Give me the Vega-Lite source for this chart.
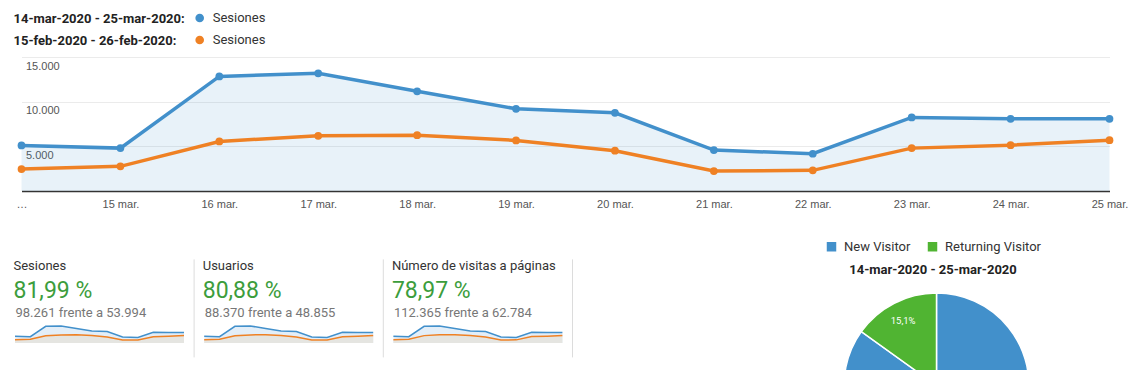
{
  "$schema": "https://vega.github.io/schema/vega-lite/v6.json",
  "background": "white",
  "padding": {"left": 12, "top": 7, "right": 0, "bottom": 0},
  "autosize": {"type": "pad"},
  "config": {"view": {"stroke": null}, "font": "Roboto"},
  "resolve": {"scale": {"color": "independent"}, "legend": {"color": "independent"}},
  "datasets": {
    "cabecera": [
      {"periodo": "14-mar-2020 - 25-mar-2020:", "serie": "actual", "metrica": "Sesiones"},
      {"periodo": "15-feb-2020 - 26-feb-2020:", "serie": "anterior", "metrica": "Sesiones"}
    ],
    "diario": [
      {"metrica": "Sesiones", "dia": "14 mar.", "actual": 5100, "anterior": 2455},
      {"metrica": "Sesiones", "dia": "15 mar.", "actual": 4800, "anterior": 2757},
      {"metrica": "Sesiones", "dia": "16 mar.", "actual": 12830, "anterior": 5547},
      {"metrica": "Sesiones", "dia": "17 mar.", "actual": 13170, "anterior": 6180},
      {"metrica": "Sesiones", "dia": "18 mar.", "actual": 11160, "anterior": 6250},
      {"metrica": "Sesiones", "dia": "19 mar.", "actual": 9200, "anterior": 5660},
      {"metrica": "Sesiones", "dia": "20 mar.", "actual": 8750, "anterior": 4510},
      {"metrica": "Sesiones", "dia": "21 mar.", "actual": 4580, "anterior": 2232},
      {"metrica": "Sesiones", "dia": "22 mar.", "actual": 4170, "anterior": 2310},
      {"metrica": "Sesiones", "dia": "23 mar.", "actual": 8230, "anterior": 4800},
      {"metrica": "Sesiones", "dia": "24 mar.", "actual": 8080, "anterior": 5134},
      {"metrica": "Sesiones", "dia": "25 mar.", "actual": 8080, "anterior": 5690},
      {"metrica": "Usuarios", "dia": "14 mar.", "actual": 4590, "anterior": 2220},
      {"metrica": "Usuarios", "dia": "15 mar.", "actual": 4320, "anterior": 2495},
      {"metrica": "Usuarios", "dia": "16 mar.", "actual": 11550, "anterior": 5020},
      {"metrica": "Usuarios", "dia": "17 mar.", "actual": 11850, "anterior": 5590},
      {"metrica": "Usuarios", "dia": "18 mar.", "actual": 10040, "anterior": 5660},
      {"metrica": "Usuarios", "dia": "19 mar.", "actual": 8280, "anterior": 5120},
      {"metrica": "Usuarios", "dia": "20 mar.", "actual": 7880, "anterior": 4080},
      {"metrica": "Usuarios", "dia": "21 mar.", "actual": 4120, "anterior": 2020},
      {"metrica": "Usuarios", "dia": "22 mar.", "actual": 3750, "anterior": 2090},
      {"metrica": "Usuarios", "dia": "23 mar.", "actual": 7410, "anterior": 4340},
      {"metrica": "Usuarios", "dia": "24 mar.", "actual": 7270, "anterior": 4650},
      {"metrica": "Usuarios", "dia": "25 mar.", "actual": 7270, "anterior": 5150},
      {"metrica": "Páginas", "dia": "14 mar.", "actual": 5830, "anterior": 2855},
      {"metrica": "Páginas", "dia": "15 mar.", "actual": 5490, "anterior": 3205},
      {"metrica": "Páginas", "dia": "16 mar.", "actual": 14680, "anterior": 6450},
      {"metrica": "Páginas", "dia": "17 mar.", "actual": 15070, "anterior": 7190},
      {"metrica": "Páginas", "dia": "18 mar.", "actual": 12770, "anterior": 7270},
      {"metrica": "Páginas", "dia": "19 mar.", "actual": 10520, "anterior": 6580},
      {"metrica": "Páginas", "dia": "20 mar.", "actual": 10010, "anterior": 5245},
      {"metrica": "Páginas", "dia": "21 mar.", "actual": 5240, "anterior": 2595},
      {"metrica": "Páginas", "dia": "22 mar.", "actual": 4770, "anterior": 2685},
      {"metrica": "Páginas", "dia": "23 mar.", "actual": 9420, "anterior": 5580},
      {"metrica": "Páginas", "dia": "24 mar.", "actual": 9240, "anterior": 5970},
      {"metrica": "Páginas", "dia": "25 mar.", "actual": 9240, "anterior": 6615}
    ],
    "visitantes": [
      {"tipo": "New Visitor", "porcentaje": 84.9, "etiqueta": "84,9%"},
      {"tipo": "Returning Visitor", "porcentaje": 15.1, "etiqueta": "15,1%"}
    ]
  },
  "spacing": 30,
  "vconcat": [
    {
      "spacing": 6,
      "resolve": {"scale": {"color": "independent"}, "legend": {"color": "independent"}},
      "vconcat": [
        {
          "data": {"name": "cabecera"},
          "width": 369.4,
          "height": 44,
          "encoding": {
            "y": {
              "field": "periodo", "type": "nominal", "sort": null,
              "scale": {"type": "point", "padding": 0.5},
              "axis": {"title": null, "domain": false, "ticks": false, "labelAlign": "left", "labelPadding": 2, "labelFont": "Roboto", "labelFontWeight": "bold", "labelFontSize": 13, "labelColor": "#222", "labelLimit": 0, "labelBaseline": "middle"}
            }
          },
          "layer": [
            {
              "mark": {"type": "point", "filled": true, "size": 75, "opacity": 1},
              "encoding": {"color": {"field": "serie", "type": "nominal", "scale": {"domain": ["actual", "anterior"], "range": ["#4290cb", "#ef8124"]}, "legend": null}}
            },
            {
              "mark": {"type": "text", "align": "left", "baseline": "middle", "dx": 13, "font": "Roboto", "fontSize": 13, "color": "#333"},
              "encoding": {"text": {"field": "metrica"}}
            }
          ]
        },
        {
          "spacing": -1.5,
          "hconcat": [
            {"data": {"values": []}, "mark": "point", "width": 1, "height": 1},
            {
              "data": {"name": "diario"},
              "transform": [{"filter": "datum.metrica === 'Sesiones'"}],
              "width": 1088,
              "height": 134,
              "encoding": {
                "x": {
                  "field": "dia", "type": "ordinal", "sort": null,
                  "scale": {"type": "point", "padding": 0},
                  "axis": {"title": null, "labelAngle": 0, "ticks": false, "domainColor": "#333", "domainWidth": 1.5, "labelPadding": 7, "labelFont": "Liberation Sans", "labelFontSize": 11, "labelColor": "#555", "labelBaseline": "top", "labelExpr": "datum.value === '14 mar.' ? '…' : datum.label"}
                }
              },
              "layer": [
                {
                  "mark": {"type": "area", "color": "#4290cb", "opacity": 0.12},
                  "encoding": {
                    "y": {
                      "field": "actual", "type": "quantitative",
                      "scale": {"domain": [0, 15000], "nice": false},
                      "axis": {"title": null, "values": [0, 2500, 5000, 7500, 10000, 12500, 15000], "grid": true, "gridColor": "#ebebeb", "domain": false, "ticks": false, "labelAlign": "left", "labelBaseline": "top", "labelPadding": -4, "labelOffset": 3, "labelFont": "Liberation Sans", "labelFontSize": 11, "labelColor": "#555", "labelExpr": "datum.value > 0 && datum.value % 5000 === 0 ? replace(format(datum.value, ','), ',', '.') : ''"}
                    }
                  }
                },
                {
                  "mark": {"type": "line", "color": "#ef8124", "strokeWidth": 3.5},
                  "encoding": {"y": {"field": "anterior", "type": "quantitative"}}
                },
                {
                  "mark": {"type": "line", "color": "#4290cb", "strokeWidth": 3.5},
                  "encoding": {"y": {"field": "actual", "type": "quantitative"}}
                },
                {
                  "mark": {"type": "point", "filled": true, "size": 60, "color": "#ef8124", "opacity": 1},
                  "encoding": {"y": {"field": "anterior", "type": "quantitative"}}
                },
                {
                  "mark": {"type": "point", "filled": true, "size": 60, "color": "#4290cb", "opacity": 1},
                  "encoding": {"y": {"field": "actual", "type": "quantitative"}}
                }
              ]
            }
          ]
        }
      ]
    },
    {
      "spacing": 252,
      "resolve": {"scale": {"color": "independent"}, "legend": {"color": "independent"}},
      "hconcat": [
        {
          "spacing": 18.9,
          "vconcat": [
            {"data": {"values": []}, "width": 1, "height": 1, "mark": "point"},
            {
              "spacing": 6.6,
              "hconcat": [
                {
                  "spacing": 4,
                  "vconcat": [
                    {"data": {"values": []}, "mark": "point", "width": 169, "height": 1,
                      "title": {"text": "Sesiones", "subtitle": "81,99 %", "orient": "bottom", "anchor": "start", "frame": "group", "dx": -1.5, "offset": 0, "font": "Roboto", "fontSize": 13, "fontWeight": "normal", "color": "#333", "subtitleFont": "Roboto", "subtitleFontSize": 23, "subtitleColor": "#3c9d3c", "subtitlePadding": 7}},
                    {
                      "data": {"name": "diario"},
                      "transform": [{"filter": "datum.metrica === 'Sesiones'"}],
                      "width": 169, "height": 17,
                      "encoding": {
                        "x": {"field": "dia", "type": "ordinal", "sort": null, "scale": {"type": "point", "padding": 0},
                          "axis": {"orient": "top", "title": "98.261 frente a 53.994", "labels": false, "ticks": false, "domain": false, "grid": false, "titleAnchor": "start", "titleAlign": "left", "titleFont": "Roboto", "titleFontSize": 13, "titleFontWeight": "normal", "titleColor": "#777", "titlePadding": 6}}
                      },
                      "layer": [
                        {"mark": {"type": "area", "color": "#e3eef8", "opacity": 1}, "encoding": {"y": {"field": "actual", "type": "quantitative", "scale": {"zero": true, "nice": false}, "axis": null}}},
                        {"mark": {"type": "area", "color": "#e5e5e1", "opacity": 1}, "encoding": {"y": {"field": "anterior", "type": "quantitative", "axis": null}}},
                        {"mark": {"type": "line", "color": "#4290cb", "strokeWidth": 1.5}, "encoding": {"y": {"field": "actual", "type": "quantitative", "axis": null}}},
                        {"mark": {"type": "line", "color": "#ef8124", "strokeWidth": 1.5}, "encoding": {"y": {"field": "anterior", "type": "quantitative", "axis": null}}}
                      ]
                    }
                  ]
                },
                {"data": {"values": [{"v": 0}]}, "width": 1, "height": 98, "mark": {"type": "point", "opacity": 0, "size": 0, "strokeWidth": 0},
                  "encoding": {"y": {"field": "v", "type": "quantitative", "axis": {"title": null, "labels": false, "ticks": false, "grid": false, "domain": true, "domainColor": "#dcdcdc", "domainWidth": 1, "minExtent": 0, "maxExtent": 0, "offset": 0}}}},
                {
                  "spacing": 4,
                  "vconcat": [
                    {"data": {"values": []}, "mark": "point", "width": 169, "height": 1,
                      "title": {"text": "Usuarios", "subtitle": "80,88 %", "orient": "bottom", "anchor": "start", "frame": "group", "dx": -1.5, "offset": 0, "font": "Roboto", "fontSize": 13, "fontWeight": "normal", "color": "#333", "subtitleFont": "Roboto", "subtitleFontSize": 23, "subtitleColor": "#3c9d3c", "subtitlePadding": 7}},
                    {
                      "data": {"name": "diario"},
                      "transform": [{"filter": "datum.metrica === 'Usuarios'"}],
                      "width": 169, "height": 17,
                      "encoding": {
                        "x": {"field": "dia", "type": "ordinal", "sort": null, "scale": {"type": "point", "padding": 0},
                          "axis": {"orient": "top", "title": "88.370 frente a 48.855", "labels": false, "ticks": false, "domain": false, "grid": false, "titleAnchor": "start", "titleAlign": "left", "titleFont": "Roboto", "titleFontSize": 13, "titleFontWeight": "normal", "titleColor": "#777", "titlePadding": 6}}
                      },
                      "layer": [
                        {"mark": {"type": "area", "color": "#e3eef8", "opacity": 1}, "encoding": {"y": {"field": "actual", "type": "quantitative", "scale": {"zero": true, "nice": false}, "axis": null}}},
                        {"mark": {"type": "area", "color": "#e5e5e1", "opacity": 1}, "encoding": {"y": {"field": "anterior", "type": "quantitative", "axis": null}}},
                        {"mark": {"type": "line", "color": "#4290cb", "strokeWidth": 1.5}, "encoding": {"y": {"field": "actual", "type": "quantitative", "axis": null}}},
                        {"mark": {"type": "line", "color": "#ef8124", "strokeWidth": 1.5}, "encoding": {"y": {"field": "anterior", "type": "quantitative", "axis": null}}}
                      ]
                    }
                  ]
                },
                {"data": {"values": [{"v": 0}]}, "width": 1, "height": 98, "mark": {"type": "point", "opacity": 0, "size": 0, "strokeWidth": 0},
                  "encoding": {"y": {"field": "v", "type": "quantitative", "axis": {"title": null, "labels": false, "ticks": false, "grid": false, "domain": true, "domainColor": "#dcdcdc", "domainWidth": 1, "minExtent": 0, "maxExtent": 0, "offset": 0}}}},
                {
                  "spacing": 4,
                  "vconcat": [
                    {"data": {"values": []}, "mark": "point", "width": 169, "height": 1,
                      "title": {"text": "Número de visitas a páginas", "subtitle": "78,97 %", "orient": "bottom", "anchor": "start", "frame": "group", "dx": -1.5, "offset": 0, "font": "Roboto", "fontSize": 13, "fontWeight": "normal", "color": "#333", "subtitleFont": "Roboto", "subtitleFontSize": 23, "subtitleColor": "#3c9d3c", "subtitlePadding": 7}},
                    {
                      "data": {"name": "diario"},
                      "transform": [{"filter": "datum.metrica === 'Páginas'"}],
                      "width": 169, "height": 17,
                      "encoding": {
                        "x": {"field": "dia", "type": "ordinal", "sort": null, "scale": {"type": "point", "padding": 0},
                          "axis": {"orient": "top", "title": "112.365 frente a 62.784", "labels": false, "ticks": false, "domain": false, "grid": false, "titleAnchor": "start", "titleAlign": "left", "titleFont": "Roboto", "titleFontSize": 13, "titleFontWeight": "normal", "titleColor": "#777", "titlePadding": 6}}
                      },
                      "layer": [
                        {"mark": {"type": "area", "color": "#e3eef8", "opacity": 1}, "encoding": {"y": {"field": "actual", "type": "quantitative", "scale": {"zero": true, "nice": false}, "axis": null}}},
                        {"mark": {"type": "area", "color": "#e5e5e1", "opacity": 1}, "encoding": {"y": {"field": "anterior", "type": "quantitative", "axis": null}}},
                        {"mark": {"type": "line", "color": "#4290cb", "strokeWidth": 1.5}, "encoding": {"y": {"field": "actual", "type": "quantitative", "axis": null}}},
                        {"mark": {"type": "line", "color": "#ef8124", "strokeWidth": 1.5}, "encoding": {"y": {"field": "anterior", "type": "quantitative", "axis": null}}}
                      ]
                    }
                  ]
                },
                {"data": {"values": [{"v": 0}]}, "width": 1, "height": 98, "mark": {"type": "point", "opacity": 0, "size": 0, "strokeWidth": 0},
                  "encoding": {"y": {"field": "v", "type": "quantitative", "axis": {"title": null, "labels": false, "ticks": false, "grid": false, "domain": true, "domainColor": "#dcdcdc", "domainWidth": 1, "minExtent": 0, "maxExtent": 0, "offset": 0}}}}
              ]
            }
          ]
        },
        {
          "spacing": 0,
          "resolve": {"scale": {"color": "independent"}, "legend": {"color": "independent"}},
          "vconcat": [
            {"data": {"values": []}, "width": 1, "height": 1, "mark": "point"},
            {
              "data": {"name": "visitantes"},
              "width": 185,
              "height": 185,
              "encoding": {
                "theta": {"field": "porcentaje", "type": "quantitative", "stack": true}
              },
              "layer": [
                {
                  "mark": {"type": "arc", "stroke": "#ffffff", "strokeWidth": 1.5},
                  "encoding": {
                    "color": {
                      "field": "tipo", "type": "nominal",
                      "scale": {"domain": ["New Visitor", "Returning Visitor"], "range": ["#4290cb", "#50b432"]},
                      "legend": {"orient": "none", "legendX": -19, "legendY": -53, "direction": "horizontal", "title": "14-mar-2020 - 25-mar-2020", "titleOrient": "bottom", "titleAnchor": "middle", "titleFont": "Roboto", "titleFontSize": 13, "titleFontWeight": "bold", "titleColor": "#222", "titlePadding": 10, "symbolType": "square", "symbolSize": 90, "symbolStrokeWidth": 0, "labelFont": "Roboto", "labelFontSize": 13, "labelColor": "#333", "labelOffset": 6, "columnPadding": 15}
                    }
                  }
                },
                {
                  "mark": {"type": "text", "radius": 73, "color": "#ffffff", "fontSize": 9.5, "font": "Roboto"},
                  "encoding": {
                    "text": {"field": "etiqueta"},
                    "order": {"field": "porcentaje", "type": "quantitative", "sort": "descending"}
                  }
                }
              ]
            }
          ]
        }
      ]
    }
  ]
}
